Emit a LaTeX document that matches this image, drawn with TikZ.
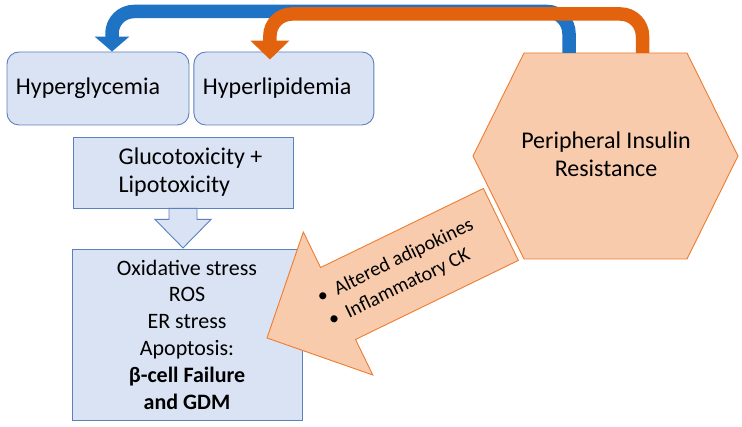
\documentclass[tikz,border=0pt]{standalone}
\usepackage{fontspec}
\setmainfont{Carlito}
\usepackage{xcolor}
\usepackage{tikz}
\usetikzlibrary{arrows.meta,positioning}

\definecolor{boxfill}{HTML}{DAE3F3}
\definecolor{boxline}{HTML}{5B80C0}
\definecolor{hexfill}{HTML}{F8CBAD}
\definecolor{hexline}{HTML}{ED7D31}
\definecolor{arrowblue}{HTML}{1F73C5}
\definecolor{arrowred}{HTML}{E2620E}

\begin{document}
\begin{tikzpicture}[x=1pt, y=1pt, node distance=4pt]

\tikzstyle{roundbox} = [rectangle, rounded corners=12pt, draw=boxline, fill=boxfill, line width=0.9pt, minimum height=73pt, inner xsep=9pt, align=left, font=\fontsize{24}{28}\selectfont]
\tikzstyle{panel} = [rectangle, draw=boxline, fill=boxfill, line width=0.9pt]
\tikzstyle{hollow} = [draw=boxline, fill=boxfill, line width=0.9pt]
\tikzstyle{peach} = [draw=hexline, fill=hexfill, line width=0.9pt]
\tikzstyle{bigtext} = [font=\fontsize{24}{28}\selectfont, align=center]
\tikzstyle{feedback} = [line width=13.5pt, rounded corners=22pt]

\useasboundingbox (0,0) rectangle (742,-427);

\node (hyperg) [roundbox, minimum width=182pt, text width=164pt] at (98,-88.5) {Hyperglycemia};
\node (hyperl) [roundbox, minimum width=180pt, text width=162pt, right=4pt of hyperg] {Hyperlipidemia};

% toxicity and its effects
\node (gluco) [panel, minimum width=220pt, minimum height=71pt] at (183,-172.5) {};
\node (glucotext) [bigtext, align=left] at ([xshift=7.5pt]gluco) {Glucotoxicity +\\Lipotoxicity};
\node (oxid) [panel, minimum width=230pt, minimum height=171pt, align=center, font=\fontsize{22}{26.8}\selectfont] at (187,-334.5) {Oxidative stress\\ROS\\ER stress\\Apoptosis:\\\textbf{β-cell Failure}\\\textbf{and GDM}};

\draw [hollow] ([xshift=-14pt]gluco.south) -- ++(0,-11) -- ++(-14,0) -- ++(28,-28.5) -- ++(28,28.5) -- ++(-14,0) -- ++(0,11) -- cycle;

% insulin resistance
\draw [peach] (524,-53) -- (687,-53) -- (738,-156) -- (687,-259) -- (524,-259) -- (473,-156) -- cycle;
\node (insulin) [bigtext] at (606,-154) {Peripheral Insulin\\Resistance};

\begin{scope}[shift={(267,-338)}, rotate=25.9]
\draw [peach] (0,0) -- (79,79.5) -- (79,40) -- (260,40) -- (260,-40) -- (79,-40) -- (79,-79.5) -- cycle;
\node (signals) [rotate=25.9, align=left, font=\fontsize{20}{26}\selectfont] at (149,0) {\textbullet\hspace{9pt}Altered adipokines\\\textbullet\hspace{9pt}Inflammatory CK};
\end{scope}

% feedback arrows
\coordinate (bluefoot) at (569,-53);
\coordinate (orangefoot) at (642.5,-53);
\draw [feedback, draw=arrowblue, -{Triangle[width=34pt,length=15pt]}] (bluefoot) -- ++(0,41.5) -| ([xshift=14pt]hyperg.north);
\draw [feedback, draw=arrowred, -{Triangle[width=38pt,length=19pt]}] (orangefoot) -- ++(0,39) -| ([xshift=-14pt,yshift=-8pt]hyperl.north);

\end{tikzpicture}
\end{document}
